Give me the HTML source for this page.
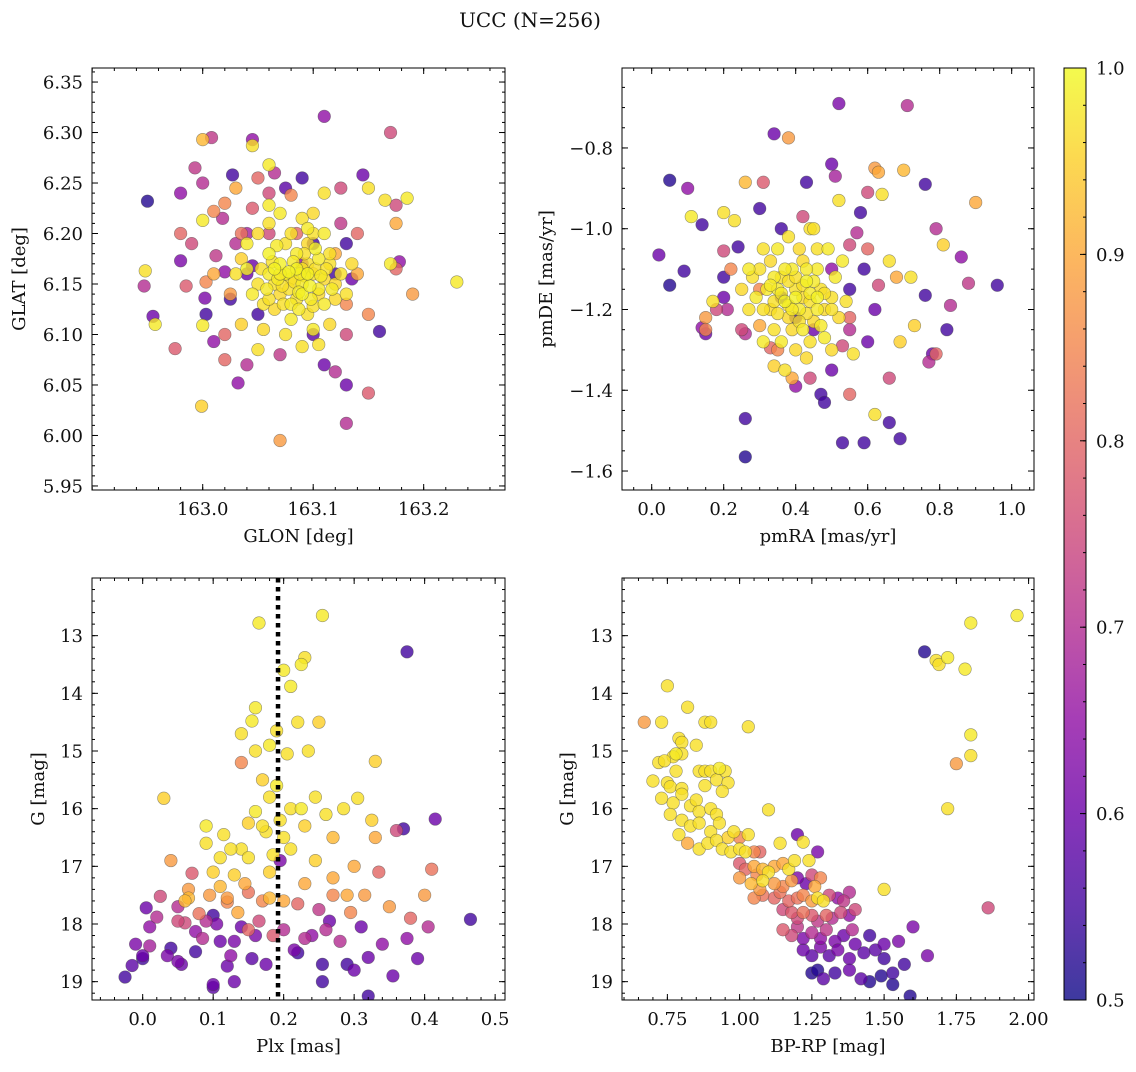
<!DOCTYPE html>
<html><head><meta charset="utf-8"><style>
body{margin:0;background:#fff;}
svg text{font-family:"DejaVu Serif","Liberation Serif",serif;fill:#111;}
</style></head><body>
<svg id="fig" width="1136" height="1067" viewBox="0 0 1136 1067" xmlns="http://www.w3.org/2000/svg">
<text x="530" y="27" font-size="20" text-anchor="middle">UCC (N=256)</text>
</svg>
<script>
// Panel 1: GLON, GLAT, membership probability
const p1GLON=[162.95,162.948,162.947,162.955,162.957,162.975,162.98,162.98,162.98,162.985,162.993,162.999,163.0,163.008,163.0,163.0,163.002,163.003,163.003,163.01,163.012,163.01,163.018,163.02,163.02,163.025,163.027,163.03,163.03,163.032,163.035,163.035,163.04,163.04,163.045,163.045,163.045,163.05,163.05,163.05,163.06,163.06,163.065,163.07,163.075,163.08,163.085,163.09,163.1,163.105,163.11,163.11,163.12,163.125,163.13,163.13,163.13,163.14,163.145,163.15,163.15,163.16,163.165,163.17,163.17,163.175,163.175,163.178,163.185,163.19,163.23,163.175,163.13,163.12,
163.06,163.065,163.07,163.075,163.08,163.085,163.09,163.095,163.07,163.08,163.09,163.1,163.105,163.11,163.06,163.075,163.085,163.095,163.1,163.105,163.115,163.12,163.05,163.045,163.055,163.065,163.08,163.095,163.11,163.12,163.125,163.04,163.05,163.06,163.07,163.09,163.1,163.11,163.13,163.135,163.04,163.03,163.055,163.075,163.1,163.115,163.065,163.088,163.078,163.098,
163.04,163.06,163.1,163.09,163.12,163.135,163.035,163.025,163.045,163.13,
163.068,163.072,163.078,163.083,163.087,163.092,163.097,163.102,163.107,163.063,163.082,163.092,163.102,163.112,163.117,163.073,163.087,163.1,163.058,163.053,163.067,163.08,163.095,163.085,163.105,163.07,163.09,163.095,163.06,163.115,
163.02,163.0,163.06,163.09,163.125,163.14,163.01,162.99,163.07,163.11,163.15,163.02];
const p1GLAT=[6.232,6.163,6.148,6.118,6.11,6.086,6.24,6.2,6.173,6.148,6.265,6.029,6.293,6.295,6.213,6.109,6.136,6.12,6.152,6.222,6.178,6.093,6.215,6.162,6.075,6.135,6.258,6.245,6.19,6.052,6.175,6.11,6.2,6.07,6.293,6.287,6.168,6.255,6.12,6.085,6.268,6.228,6.26,5.995,6.245,6.238,6.2,6.088,6.1,6.09,6.316,6.24,6.063,6.245,6.19,6.05,6.012,6.16,6.258,6.245,6.042,6.103,6.233,6.3,6.17,6.228,6.21,6.172,6.235,6.14,6.152,6.165,6.1,6.18,
6.16,6.15,6.17,6.16,6.155,6.165,6.15,6.17,6.14,6.13,6.14,6.16,6.145,6.155,6.18,6.19,6.18,6.19,6.2,6.175,6.17,6.15,6.15,6.14,6.13,6.125,6.115,6.12,6.13,6.135,6.16,6.165,6.2,6.21,6.22,6.215,6.22,6.2,6.14,6.17,6.19,6.16,6.105,6.1,6.105,6.11,6.165,6.16,6.145,6.135,
6.16,6.2,6.19,6.17,6.16,6.155,6.2,6.14,6.225,6.13,
6.155,6.148,6.162,6.152,6.142,6.158,6.148,6.165,6.158,6.172,6.172,6.18,6.185,6.165,6.145,6.13,6.125,6.128,6.145,6.165,6.188,6.2,6.205,6.135,6.14,6.16,6.165,6.16,6.135,6.18,
6.23,6.25,6.24,6.255,6.21,6.2,6.16,6.19,6.08,6.07,6.12,6.1];
const p1Prob=[0.52,0.97,0.7,0.6,0.98,0.78,0.65,0.8,0.62,0.78,0.72,0.95,0.92,0.72,0.98,0.98,0.62,0.55,0.85,0.85,0.72,0.65,0.7,0.65,0.8,0.55,0.55,0.9,0.7,0.65,0.95,0.95,0.68,0.7,0.65,0.97,0.6,0.8,0.55,0.97,0.98,0.98,0.7,0.88,0.58,0.85,0.8,0.97,0.58,0.97,0.65,0.97,0.7,0.75,0.55,0.6,0.7,0.9,0.6,0.97,0.78,0.55,0.97,0.75,0.98,0.75,0.9,0.65,0.98,0.88,0.98,0.8,0.75,0.9,
0.98,0.97,0.99,0.98,0.97,0.99,0.98,0.97,0.96,0.98,0.99,0.97,0.98,0.96,0.99,0.97,0.98,0.96,0.97,0.98,0.97,0.96,0.97,0.98,0.97,0.96,0.98,0.97,0.98,0.96,0.97,0.99,0.96,0.97,0.98,0.97,0.96,0.98,0.97,0.96,0.98,0.97,0.96,0.97,0.98,0.96,0.99,0.98,0.97,0.98,
0.6,0.75,0.55,0.65,0.55,0.6,0.82,0.88,0.78,0.85,
0.98,0.97,0.99,0.97,0.98,0.97,0.99,0.97,0.98,0.97,0.98,0.97,0.99,0.97,0.98,0.97,0.98,0.97,0.98,0.97,0.98,0.97,0.98,0.97,0.96,0.98,0.97,0.99,0.97,0.97,
0.85,0.7,0.75,0.55,0.72,0.8,0.9,0.75,0.72,0.6,0.85,0.8];

// Panel 2: pmRA, pmDE
const p2RA=[0.02,0.05,0.05,0.09,0.1,0.11,0.14,0.15,0.14,0.15,0.2,0.2,0.2,0.2,0.21,0.23,0.24,0.26,0.26,0.26,0.26,0.3,0.31,0.34,0.38,0.43,0.42,0.44,0.5,0.52,0.51,0.52,0.58,0.6,0.62,0.63,0.64,0.7,0.71,0.76,0.79,0.81,0.83,0.9,0.88,0.96,0.86,0.82,0.78,0.79,0.77,0.73,0.69,0.66,0.69,0.66,0.62,0.59,0.53,0.55,0.62,0.6,0.63,0.72,0.76,0.5,0.47,0.48,0.44,0.4,0.39,0.34,0.33,0.3,0.28,0.17,0.15,0.18,0.55,0.55,0.57,0.59,0.4,0.36,0.36,0.53,0.56,0.55,0.66,0.68,
0.3,0.32,0.33,0.35,0.36,0.37,0.38,0.39,0.4,0.41,0.42,0.43,0.44,0.45,0.46,0.47,0.48,0.49,0.5,0.51,0.52,0.34,0.36,0.4,0.44,0.48,0.31,0.33,0.35,0.38,0.41,0.29,0.27,0.25,0.27,0.45,0.5,0.53,0.54,0.39,0.42,0.37,0.43,0.31,0.46,0.34,0.38,0.42,0.46,
0.36,0.38,0.4,0.42,0.44,0.4,0.37,0.43,0.46,0.34,0.39,0.41,0.45,0.48,0.33,0.35,0.47,0.5,0.31,0.43,
0.3,0.45,0.5,0.35,0.55,0.25,0.6,0.22];
const p2DE=[-1.065,-0.88,-1.14,-1.105,-0.9,-0.97,-0.99,-1.22,-1.245,-1.26,-0.96,-1.055,-1.12,-1.17,-1.2,-0.98,-1.045,-0.885,-1.26,-1.565,-1.47,-0.95,-0.885,-0.765,-0.775,-0.885,-0.97,-1.0,-0.84,-0.69,-0.87,-0.93,-0.96,-0.91,-0.85,-0.86,-0.915,-0.855,-0.695,-0.89,-1.0,-1.04,-1.19,-0.935,-1.135,-1.14,-1.07,-1.25,-1.31,-1.31,-1.33,-1.24,-1.28,-1.37,-1.52,-1.48,-1.46,-1.53,-1.53,-1.41,-1.2,-1.28,-1.14,-1.12,-1.165,-1.35,-1.41,-1.43,-1.37,-1.39,-1.37,-1.34,-1.295,-1.24,-1.12,-1.18,-1.25,-1.2,-1.15,-1.04,-1.01,-1.1,-1.22,-1.0,-1.17,-1.29,-1.31,-1.22,-1.08,-1.12,
-1.1,-1.15,-1.2,-1.05,-1.12,-1.18,-1.22,-1.1,-1.15,-1.2,-1.08,-1.13,-1.18,-1.23,-1.1,-1.15,-1.2,-1.05,-1.17,-1.12,-1.22,-1.25,-1.28,-1.3,-1.28,-1.27,-1.05,-1.08,-1.15,-1.02,-1.05,-1.17,-1.2,-1.15,-1.1,-1.0,-1.3,-1.08,-1.18,-1.25,-1.25,-1.35,-1.32,-1.28,-1.05,-1.12,-1.13,-1.17,-1.2,
-1.16,-1.19,-1.17,-1.14,-1.16,-1.12,-1.1,-1.21,-1.17,-1.18,-1.2,-1.23,-1.13,-1.16,-1.14,-1.21,-1.24,-1.2,-1.2,-1.1,
-1.15,-1.25,-1.1,-1.3,-1.25,-1.25,-1.05,-1.1];
const p2Prob=[0.6,0.52,0.52,0.55,0.65,0.98,0.55,0.88,0.65,0.6,0.97,0.75,0.55,0.6,0.7,0.97,0.55,0.92,0.7,0.52,0.55,0.55,0.78,0.6,0.88,0.55,0.75,0.97,0.6,0.62,0.68,0.97,0.55,0.75,0.88,0.9,0.97,0.92,0.7,0.55,0.7,0.95,0.7,0.9,0.72,0.55,0.65,0.55,0.6,0.8,0.7,0.95,0.95,0.75,0.55,0.55,0.97,0.55,0.55,0.8,0.6,0.6,0.75,0.97,0.55,0.6,0.55,0.55,0.75,0.65,0.9,0.95,0.8,0.9,0.97,0.97,0.85,0.75,0.55,0.75,0.7,0.55,0.55,0.55,0.55,0.75,0.97,0.8,0.97,0.9,
0.97,0.98,0.96,0.98,0.97,0.99,0.96,0.98,0.97,0.98,0.96,0.99,0.97,0.96,0.98,0.97,0.96,0.98,0.97,0.98,0.96,0.97,0.98,0.96,0.97,0.98,0.97,0.96,0.98,0.97,0.96,0.98,0.97,0.96,0.98,0.97,0.96,0.98,0.97,0.96,0.98,0.97,0.96,0.98,0.97,0.98,0.97,0.96,0.98,
0.98,0.97,0.99,0.97,0.98,0.97,0.98,0.97,0.99,0.97,0.98,0.97,0.98,0.97,0.98,0.97,0.98,0.97,0.97,0.98,
0.85,0.6,0.65,0.85,0.7,0.75,0.8,0.85];

// Panel 3: Plx, G
const p3Plx=[-0.025,-0.015,-0.01,0.0,0.0,0.005,0.01,0.01,0.02,0.025,0.03,0.035,0.04,0.04,0.05,0.05,0.055,0.06,0.065,0.065,0.07,0.075,0.075,0.08,0.085,0.09,0.09,0.095,0.1,0.1,0.1,0.1,0.105,0.11,0.11,0.115,0.12,0.12,0.125,0.13,0.13,0.13,0.135,0.14,0.14,0.14,0.145,0.15,0.15,0.15,0.155,0.155,0.16,0.16,0.16,0.165,0.165,0.17,0.17,0.175,0.175,0.18,0.18,0.18,0.185,0.185,0.19,0.19,0.195,0.195,0.2,0.2,0.2,0.205,0.21,0.21,0.215,0.22,0.22,0.225,0.225,0.23,0.23,0.235,0.24,0.245,0.25,0.25,0.255,0.255,0.255,0.26,0.265,0.27,0.27,0.28,0.285,0.29,0.295,0.3,0.3,0.305,0.31,0.315,0.32,0.32,0.325,0.33,0.33,0.335,0.34,0.35,0.355,0.36,0.37,0.375,0.375,0.38,0.39,0.4,0.405,0.41,0.415,0.465,0.05,0.09,0.14,0.16,0.12,0.18,0.22,0.23,0.26,0.29,0.06,0.11,0.15,0.2,0.23,0.27,0.17,0.245,0.21,0.125];
const p3G=[18.92,18.72,18.35,18.6,18.55,17.72,18.38,18.05,17.88,17.52,15.82,18.55,16.9,18.42,17.7,18.65,18.7,17.98,17.4,17.55,17.12,18.48,18.13,17.82,18.25,16.6,16.3,17.5,17.1,19.05,19.1,17.85,18.0,16.85,18.3,16.45,18.73,17.62,18.55,19.0,18.3,17.15,17.8,16.7,15.2,14.7,17.3,18.1,16.25,17.45,18.6,14.48,15.0,14.25,16.05,17.95,12.78,15.5,17.6,16.4,18.7,15.8,14.9,17.1,18.2,16.8,14.65,15.6,16.2,16.9,17.6,13.6,18.1,15.05,13.88,16.7,18.45,18.5,14.5,13.5,16.0,13.38,17.3,15.0,18.2,16.9,14.5,17.75,12.65,18.7,19.0,16.1,17.95,16.5,17.5,18.3,16.0,18.7,17.8,17.0,18.8,15.82,18.05,17.5,19.25,18.58,16.2,15.18,16.5,17.1,18.35,17.7,18.9,16.38,16.35,13.28,18.25,17.9,18.6,17.5,18.05,17.05,16.18,17.92,17.95,17.95,18.05,18.2,17.55,17.55,17.65,18.25,18.1,17.5,17.6,17.35,16.85,16.5,16.3,17.2,16.3,15.8,16.0,16.7];
const p3Prob=[0.55,0.58,0.62,0.55,0.6,0.6,0.68,0.65,0.7,0.75,0.95,0.62,0.88,0.55,0.7,0.62,0.6,0.75,0.88,0.92,0.78,0.55,0.65,0.82,0.7,0.97,0.98,0.88,0.95,0.6,0.58,0.55,0.62,0.97,0.6,0.97,0.6,0.85,0.65,0.6,0.62,0.95,0.9,0.97,0.85,0.97,0.9,0.8,0.95,0.82,0.58,0.98,0.97,0.98,0.98,0.75,0.98,0.95,0.85,0.97,0.6,0.97,0.98,0.95,0.78,0.97,0.97,0.98,0.97,0.62,0.9,0.98,0.7,0.97,0.98,0.97,0.62,0.55,0.97,0.98,0.98,0.97,0.9,0.97,0.65,0.95,0.95,0.72,0.98,0.55,0.55,0.97,0.6,0.92,0.85,0.7,0.97,0.55,0.85,0.9,0.6,0.97,0.6,0.88,0.55,0.6,0.95,0.95,0.9,0.8,0.65,0.88,0.6,0.75,0.55,0.55,0.65,0.8,0.6,0.88,0.7,0.82,0.6,0.55,0.75,0.7,0.6,0.62,0.88,0.92,0.8,0.7,0.7,0.9,0.92,0.92,0.97,0.97,0.95,0.9,0.97,0.97,0.97,0.97];

// Panel 4: BP-RP, G
const p4BR=[0.67,0.73,0.75,0.82,0.88,0.9,1.03,0.79,0.8,0.85,0.8,0.77,0.78,
0.72,0.74,0.78,0.86,0.88,0.9,0.93,0.95,0.7,0.75,0.76,0.8,0.88,0.92,0.96,0.94,
0.73,0.77,0.8,0.83,0.85,0.86,0.9,0.92,0.76,0.8,0.83,0.86,0.9,0.93,0.96,0.98,
0.79,0.82,0.86,0.89,0.92,0.94,0.97,1.0,1.02,1.05,1.07,1.0,1.03,1.14,1.22,1.1,1.2,1.27,1.24,1.5,
1.0,1.02,1.05,1.06,1.08,1.1,1.12,1.15,1.17,1.19,1.0,1.04,1.07,1.08,1.12,1.15,1.18,1.2,1.23,1.25,1.26,1.28,
1.05,1.08,1.12,1.14,1.17,1.2,1.22,1.25,1.27,1.29,1.31,1.34,1.36,1.38,
1.15,1.18,1.2,1.22,1.25,1.27,1.3,1.32,1.35,1.38,1.4,
1.15,1.18,1.2,1.22,1.25,1.28,1.3,1.33,1.36,1.39,
1.22,1.25,1.28,1.31,1.34,1.38,1.4,1.43,1.45,1.47,1.5,
1.25,1.27,1.29,1.33,1.38,1.42,1.45,1.49,1.53,1.53,1.59,1.55,1.6,1.65,1.57,1.5,
1.64,1.68,1.69,1.72,1.78,1.8,1.96,1.8,1.8,1.75,1.72,1.86];
const p4G=[14.5,14.5,13.87,14.24,14.5,14.5,14.58,14.78,14.85,14.9,15.05,15.1,15.05,
15.2,15.17,15.35,15.35,15.35,15.35,15.3,15.35,15.52,15.55,15.62,15.65,15.6,15.5,15.55,15.7,
15.82,15.9,15.75,15.95,15.85,16.05,16.0,16.1,16.1,16.2,16.3,16.25,16.4,16.25,16.5,16.4,
16.45,16.6,16.7,16.6,16.55,16.7,16.75,16.7,16.75,16.75,16.75,16.5,16.45,16.6,16.58,16.02,16.45,16.75,16.9,17.4,
16.95,17.05,17.0,17.15,17.05,17.1,17.0,16.95,17.05,16.9,17.2,17.3,17.4,17.25,17.3,17.35,17.25,17.2,17.3,17.15,17.35,17.2,
17.55,17.5,17.55,17.45,17.6,17.55,17.5,17.6,17.55,17.6,17.5,17.55,17.6,17.45,
17.75,17.8,17.9,17.8,17.85,17.95,17.85,17.9,17.8,17.85,17.75,
18.1,18.2,18.05,18.25,18.15,18.25,18.1,18.3,18.2,18.1,
18.45,18.55,18.4,18.55,18.45,18.6,18.35,18.5,18.2,18.45,18.35,
18.85,18.8,18.95,18.85,18.8,18.95,19.0,18.9,18.85,19.05,19.25,18.3,18.05,18.55,18.7,18.6,
13.28,13.43,13.5,13.38,13.58,12.78,12.65,14.72,15.08,15.22,16.0,17.72];
const p4Prob=[0.88,0.97,0.97,0.97,0.97,0.97,0.97,0.97,0.97,0.97,0.97,0.97,0.98,
0.97,0.97,0.97,0.97,0.97,0.97,0.98,0.97,0.97,0.97,0.97,0.97,0.97,0.97,0.97,0.97,
0.97,0.97,0.97,0.97,0.97,0.97,0.97,0.97,0.97,0.97,0.97,0.97,0.97,0.97,0.95,0.97,
0.97,0.9,0.97,0.97,0.97,0.97,0.97,0.97,0.97,0.85,0.8,0.85,0.97,0.97,0.97,0.97,0.6,0.62,0.97,0.97,
0.78,0.8,0.9,0.85,0.92,0.97,0.9,0.9,0.97,0.97,0.88,0.92,0.88,0.97,0.88,0.85,0.88,0.62,0.6,0.75,0.9,0.85,
0.85,0.82,0.8,0.82,0.8,0.82,0.85,0.88,0.97,0.97,0.75,0.65,0.72,0.7,
0.75,0.78,0.75,0.82,0.78,0.72,0.8,0.7,0.75,0.65,0.75,
0.78,0.75,0.72,0.62,0.7,0.65,0.72,0.62,0.6,0.7,
0.6,0.58,0.62,0.58,0.62,0.6,0.6,0.58,0.55,0.58,0.6,
0.52,0.52,0.58,0.55,0.6,0.58,0.52,0.52,0.55,0.52,0.52,0.62,0.62,0.62,0.55,0.55,
0.52,0.97,0.97,0.98,0.98,0.98,0.98,0.98,0.97,0.88,0.97,0.75];

const NS='http://www.w3.org/2000/svg';
const svg=document.getElementById('fig');
function el(tag,attrs,parent){const e=document.createElementNS(NS,tag);for(const k in attrs)e.setAttribute(k,attrs[k]);(parent||svg).appendChild(e);return e;}
const stops=[[13,8,135],[65,4,157],[106,0,168],[143,13,164],[177,42,144],[204,71,120],[225,100,98],[242,132,75],[252,166,54],[252,206,37],[240,249,33]];
function plasma(p){let t=Math.max(0,Math.min(1,(p-0.5)/0.5))*10;const i=Math.min(9,Math.floor(t)),f=t-i;const a=stops[i],b=stops[i+1];
 return 'rgb('+[0,1,2].map(k=>Math.round(a[k]+(b[k]-a[k])*f)).join(',')+')';}

const FS=18;
function panel(o){
 const g=el('g',{});
 
 
 const sx=v=>o.L+(v-o.x0)/(o.x1-o.x0)*(o.R-o.L);
 const sy=v=>o.inv? o.T+(v-o.y0)/(o.y1-o.y0)*(o.B-o.T) : o.B-(v-o.y0)/(o.y1-o.y0)*(o.B-o.T);
 const idx=o.xs.map((_,i)=>i).sort((a,b)=>o.ps[a]-o.ps[b]);
 const clip=el('clipPath',{id:'c'+o.name},g);el('rect',{x:o.L,y:o.T,width:o.R-o.L,height:o.B-o.T},clip);
 const pts=el('g',{'clip-path':'url(#c'+o.name+')'},g);
 idx.forEach(i=>{const c=el('circle',{cx:sx(o.xs[i]),cy:sy(o.ys[i]),r:6.3,fill:plasma(o.ps[i]),'fill-opacity':0.8,stroke:'#444','stroke-opacity':0.55,'stroke-width':0.6},pts);
  
  });
 if(o.vline!==undefined){const l=el('line',{x1:sx(o.vline),x2:sx(o.vline),y1:o.T,y2:o.B,stroke:'#000','stroke-width':4.5,'stroke-dasharray':'4.5 4.5'},pts);
  
  }
 const fr=el('rect',{x:o.L,y:o.T,width:o.R-o.L,height:o.B-o.T,fill:'none',stroke:'#000','stroke-width':1},g);
 
 
 const eps=1e-6;
 const xmin=Math.min(o.x0,o.x1),xmax=Math.max(o.x0,o.x1);
 for(let v=Math.ceil(xmin/o.xm-eps)*o.xm;v<=xmax+eps;v+=o.xm){const x=sx(v);
  el('line',{x1:x,x2:x,y1:o.B,y2:o.B-3,stroke:'#000'},g);el('line',{x1:x,x2:x,y1:o.T,y2:o.T+3,stroke:'#000'},g);}
 o.xt.forEach(v=>{const x=sx(v);el('line',{x1:x,x2:x,y1:o.B,y2:o.B-6,stroke:'#000'},g);el('line',{x1:x,x2:x,y1:o.T,y2:o.T+6,stroke:'#000'},g);
  const t=el('text',{x:x,y:o.B+25,'font-size':FS,'text-anchor':'middle'},g);t.textContent=(v<0?'\u2212':'')+Math.abs(v).toFixed(o.xd);
  
  });
 const ymin=Math.min(o.y0,o.y1),ymax=Math.max(o.y0,o.y1);
 for(let v=Math.ceil(ymin/o.ym-eps)*o.ym;v<=ymax+eps;v+=o.ym){const y=sy(v);
  el('line',{x1:o.L,x2:o.L+3,y1:y,y2:y,stroke:'#000'},g);el('line',{x1:o.R,x2:o.R-3,y1:y,y2:y,stroke:'#000'},g);}
 o.yt.forEach(v=>{const y=sy(v);el('line',{x1:o.L,x2:o.L+6,y1:y,y2:y,stroke:'#000'},g);el('line',{x1:o.R,x2:o.R-6,y1:y,y2:y,stroke:'#000'},g);
  const t=el('text',{x:o.L-9,y:y+6.5,'font-size':FS,'text-anchor':'end'},g);t.textContent=(v<0?'\u2212':'')+Math.abs(v).toFixed(o.yd);
  
  });
 const xl=el('text',{x:(o.L+o.R)/2,y:o.B+52,'font-size':FS,'text-anchor':'middle'},g);xl.textContent=o.xlab;
 
 
 const cy=(o.T+o.B)/2;
 const yl=el('text',{x:o.ylx,y:cy,'font-size':FS,'text-anchor':'middle',transform:'rotate(-90 '+o.ylx+' '+cy+')'},g);yl.textContent=o.ylab;
 
 
}
panel({name:'glon-glat-panel',L:92,R:505,T:68,B:490,x0:162.8998,x1:163.2736,y0:5.946,y1:6.3639,xs:p1GLON,ys:p1GLAT,ps:p1Prob,xt:[163.0,163.1,163.2],xm:0.02,xd:1,yt:[5.95,6.0,6.05,6.1,6.15,6.2,6.25,6.3,6.35],ym:0.01,yd:2,xlab:'GLON [deg]',ylab:'GLAT [deg]',ylx:25});
panel({name:'pm-panel',L:622,R:1034,T:68,B:490,x0:-0.0825,x1:1.062,y0:-1.647,y1:-0.602,xs:p2RA,ys:p2DE,ps:p2Prob,xt:[0,0.2,0.4,0.6,0.8,1.0],xm:0.05,xd:1,yt:[-1.6,-1.4,-1.2,-1.0,-0.8],ym:0.05,yd:1,xlab:'pmRA [mas/yr]',ylab:'pmDE [mas/yr]',ylx:552});
panel({name:'plx-g-panel',L:92,R:505,T:578,B:1000,x0:-0.0719,x1:0.514,y0:12.0,y1:19.318,inv:true,xs:p3Plx,ys:p3G,ps:p3Prob,xt:[0,0.1,0.2,0.3,0.4,0.5],xm:0.02,xd:1,yt:[13,14,15,16,17,18,19],ym:0.2,yd:0,xlab:'Plx [mas]',ylab:'G [mag]',ylx:44,vline:0.192});
panel({name:'cmd-panel',L:622,R:1034,T:578,B:1000,x0:0.593,x1:2.0187,y0:12.0,y1:19.318,inv:true,xs:p4BR,ys:p4G,ps:p4Prob,xt:[0.75,1.0,1.25,1.5,1.75,2.0],xm:0.05,xd:2,yt:[13,14,15,16,17,18,19],ym:0.2,yd:0,xlab:'BP-RP [mag]',ylab:'G [mag]',ylx:573});

// colorbar
const cbTicks=[0.5,0.6,0.7,0.8,0.9,1.0];
const cb=el('g',{});


const CT=68,CB=1000,CL=1064,CR=1086;
const grad=el('linearGradient',{id:'cbg',x1:0,y1:1,x2:0,y2:0},cb);
for(let k=0;k<=20;k++){el('stop',{offset:k/20,'stop-color':plasma(0.5+k/40),'stop-opacity':0.8},grad);}
el('rect',{x:CL,y:CT,width:CR-CL,height:CB-CT,fill:'url(#cbg)',stroke:'#000','stroke-width':1},cb);
const cy=v=>CB-(v-0.5)/0.5*(CB-CT);
for(let v=0.5;v<=1.0001;v+=0.02){el('line',{x1:CR,x2:CR-3,y1:cy(v),y2:cy(v),stroke:'#000'},cb);}
cbTicks.forEach(v=>{el('line',{x1:CR,x2:CR-6,y1:cy(v),y2:cy(v),stroke:'#000'},cb);
 const t=el('text',{x:CR+10,y:cy(v)+6.5,'font-size':FS},cb);t.textContent=v.toFixed(1);
 
 });
</script>
</body></html>
